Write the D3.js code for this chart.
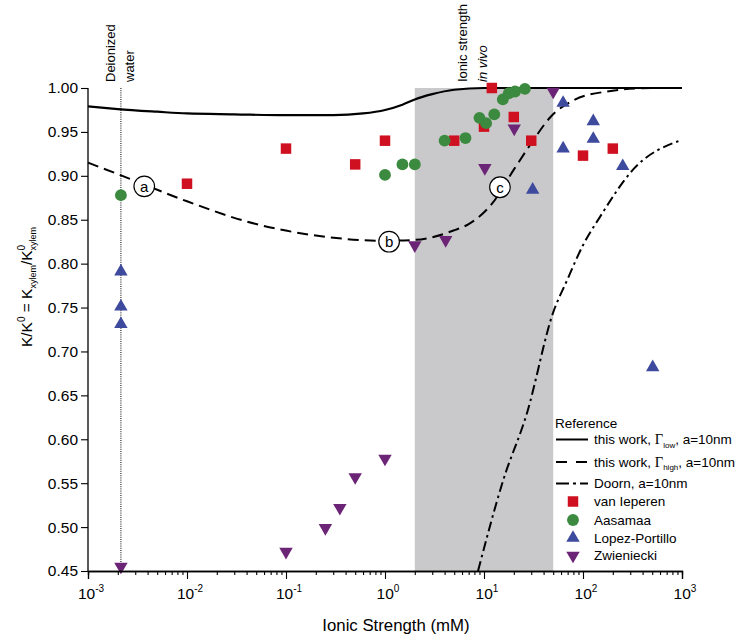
<!DOCTYPE html>
<html>
<head>
<meta charset="utf-8">
<script src="https://cdn.jsdelivr.net/npm/d3@7"></script>
<style>
  html, body { margin: 0; padding: 0; background: #fff; }
  svg { display: block; }
  text { font-family: Arial, "Liberation Sans", Helvetica, sans-serif; fill: #000; }
</style>
</head>
<body>
<svg id="chart" width="740" height="638"></svg>
<script>
// ---------------- DATA ----------------
const xDomain = [1e-3, 1e3];
const yDomain = [0.45, 1.0];
const yTicks = [0.45, 0.50, 0.55, 0.60, 0.65, 0.70, 0.75, 0.80, 0.85, 0.90, 0.95, 1.00];
const xMajorTicks = [1e-3, 1e-2, 1e-1, 1, 10, 100, 1000];
const xTickExponents = ["-3", "-2", "-1", "0", "1", "2", "3"];

// in-vivo ionic strength band (mM)
const vivoBand = [2, 50];
// deionized water ionic strength (mM)
const deionizedI = 0.00215;

// this work, Gamma_low, a=10nm (solid)
const lowI = [0.001, 0.002, 0.005, 0.01, 0.03, 0.1, 0.3, 0.6, 1, 1.5, 2, 3, 5, 10, 20, 100, 1000];
const lowK = [0.979, 0.976, 0.973, 0.971, 0.970, 0.969, 0.969, 0.971, 0.975, 0.981, 0.987, 0.993, 0.998, 1.0, 1.0, 1.0, 1.0];

// this work, Gamma_high, a=10nm (dashed)
const highI = [0.001, 0.002, 0.01, 0.04, 0.2, 1, 2, 5, 7, 12, 20, 30, 47, 80, 175, 500, 1000];
const highK = [0.915, 0.902, 0.871, 0.848, 0.832, 0.826, 0.827, 0.838, 0.845, 0.868, 0.907, 0.937, 0.967, 0.986, 0.996, 1.0, 1.0];

// Doorn, a=10nm (dash-dot)
const doornI = [8.7, 15.6, 27.2, 49.8, 69, 100, 148, 320, 1000];
const doornK = [0.45, 0.553, 0.630, 0.744, 0.781, 0.821, 0.853, 0.907, 0.941];

// measured data
const ieperenI = [0.01, 0.1, 0.5, 1, 5, 10, 12, 20, 30, 100, 200];
const ieperenK = [0.891, 0.931, 0.913, 0.940, 0.940, 0.956, 1.0, 0.967, 0.940, 0.923, 0.931];

const aasamaaI = [0.00215, 1.0, 1.5, 2.0, 4.0, 6.5, 9, 10.5, 12.7, 15.5, 17.8, 20.6, 25.9];
const aasamaaK = [0.878, 0.901, 0.913, 0.913, 0.940, 0.943, 0.966, 0.960, 0.970, 0.987, 0.994, 0.996, 0.999];

const lopezI = [0.00215, 0.00215, 0.00215, 31, 63, 63, 127, 127, 252, 506];
const lopezK = [0.791, 0.751, 0.731, 0.884, 0.983, 0.931, 0.962, 0.942, 0.911, 0.682];

const zwienI = [0.00215, 0.1, 0.25, 0.35, 0.5, 1.0, 2.0, 4.1, 10.2, 20.2, 50];
const zwienK = [0.455, 0.472, 0.499, 0.522, 0.557, 0.578, 0.821, 0.827, 0.909, 0.954, 0.996];

// point annotations on the dashed curve
const annotLabels = ["a", "b", "c"];
const annotI = [0.0037, 1.1, 14.5];
const annotK = [0.888, 0.825, 0.887];

// ---------------- CHART ----------------
const svg = d3.select("#chart");
const x = d3.scaleLog().domain(xDomain).range([88, 682]);
const y = d3.scaleLinear().domain(yDomain).range([571, 88]);

const colors = { red: "#cf1020", green: "#3b8a3f", blue: "#3e4a9d", purple: "#6c2477", band: "#c9c8ca" };

// gray band
svg.append("rect")
  .attr("x", x(vivoBand[0])).attr("y", y(1.0))
  .attr("width", x(vivoBand[1]) - x(vivoBand[0]))
  .attr("height", y(0.45) - y(1.0))
  .attr("fill", colors.band);

// deionized dotted line
svg.append("line")
  .attr("x1", x(deionizedI)).attr("x2", x(deionizedI))
  .attr("y1", y(1.0)).attr("y2", y(0.45))
  .attr("stroke", "#000").attr("stroke-width", 1)
  .attr("stroke-dasharray", "1,1.2");

// curves
const line = d3.line().x(d => x(d[0])).y(d => y(d[1])).curve(d3.curveMonotoneX);
const zip = (a, b) => a.map((v, i) => [v, b[i]]);

svg.append("path").datum(zip(lowI, lowK))
  .attr("d", line).attr("fill", "none").attr("stroke", "#000").attr("stroke-width", 2.2);
svg.append("path").datum(zip(highI, highK))
  .attr("d", line).attr("fill", "none").attr("stroke", "#000").attr("stroke-width", 2)
  .attr("stroke-dasharray", "11,6");
svg.append("path").datum(zip(doornI, doornK))
  .attr("d", line).attr("fill", "none").attr("stroke", "#000").attr("stroke-width", 2)
  .attr("stroke-dasharray", "10,4,2.5,4");

// annotation circles
annotLabels.forEach((lab, i) => {
  const g = svg.append("g").attr("transform", `translate(${x(annotI[i])},${y(annotK[i])})`);
  g.append("circle").attr("r", 10.3).attr("fill", "#fff").attr("stroke", "#000").attr("stroke-width", 1.2);
  g.append("text").attr("text-anchor", "middle").attr("dy", "0.36em")
    .style("font-size", "15px").text(lab);
});

// symbols
const sq = d3.symbol().type(d3.symbolSquare).size(110);
const ci = d3.symbol().type(d3.symbolCircle).size(110);
const tri = d3.symbol().type(d3.symbolTriangle).size(78);

function drawPts(I, K, sym, color, rot) {
  svg.append("g").selectAll("path").data(zip(I, K)).join("path")
    .attr("d", sym)
    .attr("transform", d => `translate(${x(d[0])},${y(d[1])})` + (rot ? " rotate(180)" : ""))
    .attr("fill", color);
}
drawPts(ieperenI, ieperenK, sq, colors.red, false);
drawPts(aasamaaI, aasamaaK, ci, colors.green, false);
drawPts(lopezI, lopezK, tri, colors.blue, false);
drawPts(zwienI, zwienK, tri, colors.purple, true);

// axes
const xMinor = [];
for (let e = -3; e < 3; e++) for (let m = 2; m <= 9; m++) xMinor.push(m * Math.pow(10, e));

const gxMinor = svg.append("g").attr("transform", "translate(0,571)")
  .call(d3.axisBottom(x).tickValues(xMinor).tickSize(4).tickFormat(""));
const gx = svg.append("g").attr("transform", "translate(0,571)")
  .call(d3.axisBottom(x).tickValues(xMajorTicks).tickSize(8).tickFormat(""));
[gx, gxMinor].forEach(g => {
  g.selectAll("path").attr("stroke", "#000").attr("stroke-width", 1.3);
  g.selectAll("line").attr("stroke", "#000").attr("stroke-width", 1.1);
});

xMajorTicks.forEach((v, i) => {
  const t = svg.append("text").attr("x", x(v) + 3).attr("y", 599)
    .attr("text-anchor", "middle").style("font-size", "15.5px");
  t.append("tspan").text("10");
  t.append("tspan").attr("dy", -7).style("font-size", "10px").text(xTickExponents[i]);
});

const gy = svg.append("g").attr("transform", "translate(88,0)")
  .call(d3.axisLeft(y).tickValues(yTicks).tickSize(7).tickPadding(3).tickFormat(d3.format(".2f")));
gy.selectAll("path").attr("stroke", "#000").attr("stroke-width", 1.3);
gy.selectAll("line").attr("stroke", "#000").attr("stroke-width", 1.1);
gy.selectAll("text").style("font-size", "15.5px").style("font-family", "Arial, 'Liberation Sans', sans-serif");
gy.selectAll(".domain").attr("d", `M-0,${y(0.45)}V${y(1.0)}`);

// axis titles
svg.append("text").attr("x", 396).attr("y", 631).attr("text-anchor", "middle")
  .style("font-size", "16.8px").text("Ionic Strength (mM)");

const yt = svg.append("text").attr("transform", "translate(32,287) rotate(-90)")
  .attr("text-anchor", "middle").style("font-size", "15.5px");
yt.append("tspan").text("K/K");
yt.append("tspan").attr("dy", -7).style("font-size", "10px").text("0");
yt.append("tspan").attr("dy", 7).text(" = K");
yt.append("tspan").attr("dy", 4).style("font-size", "9px").text("xylem");
yt.append("tspan").attr("dy", -4).text("/K");
yt.append("tspan").attr("dy", -7).style("font-size", "10px").text("0");
yt.append("tspan").attr("dy", 11).attr("dx", -5.6).style("font-size", "9px").text("xylem");

// top rotated labels
function vlabel(xp, txt, italic) {
  svg.append("text").attr("transform", `translate(${xp},82) rotate(-90)`)
    .style("font-size", "13px").style("font-style", italic ? "italic" : "normal").text(txt);
}
vlabel(115, "Deionized");
vlabel(134, "water");
vlabel(466.5, "Ionic strength");
vlabel(487, "in vivo", true);

// legend
const lgX0 = 556, lgX1 = 588, lgSym = 573, lgTxt = 594;
svg.append("text").attr("x", 555).attr("y", 428).style("font-size", "13.5px").text("Reference");

const lineItems = [
  { y: 439.5, dash: null, lab: "low", tail: ", a=10nm", pre: "this work, " },
  { y: 462, dash: "11,9", lab: "high", tail: ", a=10nm", pre: "this work, " },
  { y: 483.5, dash: "13,4,3,4", lab: null, tail: "", pre: "Doorn, a=10nm" }
];
lineItems.forEach(it => {
  svg.append("line").attr("x1", lgX0).attr("x2", lgX1).attr("y1", it.y).attr("y2", it.y)
    .attr("stroke", "#000").attr("stroke-width", 2)
    .attr("stroke-dasharray", it.dash);
  const t = svg.append("text").attr("x", lgTxt).attr("y", it.y + 4.7).style("font-size", "13.5px");
  t.append("tspan").text(it.pre);
  if (it.lab) {
    t.append("tspan").style("font-family", "'Liberation Serif', 'Times New Roman', serif").style("font-size", "14.5px").text("Γ");
    t.append("tspan").attr("dy", 3.5).style("font-size", "8px").text(it.lab);
    t.append("tspan").attr("dy", -3.5).text(it.tail);
  }
});

const symItems = [
  { y: 501.5, sym: sq, color: colors.red, rot: false, lab: "van Ieperen" },
  { y: 520, sym: ci, color: colors.green, rot: false, lab: "Aasamaa" },
  { y: 538, sym: tri, color: colors.blue, rot: false, lab: "Lopez-Portillo" },
  { y: 555.5, sym: tri, color: colors.purple, rot: true, lab: "Zwieniecki" }
];
symItems.forEach(it => {
  svg.append("path").attr("d", it.sym)
    .attr("transform", `translate(${lgSym},${it.y})` + (it.rot ? " rotate(180)" : ""))
    .attr("fill", it.color);
  svg.append("text").attr("x", lgTxt).attr("y", it.y + 4.7).style("font-size", "13.5px").text(it.lab);
});
</script>
</body>
</html>
